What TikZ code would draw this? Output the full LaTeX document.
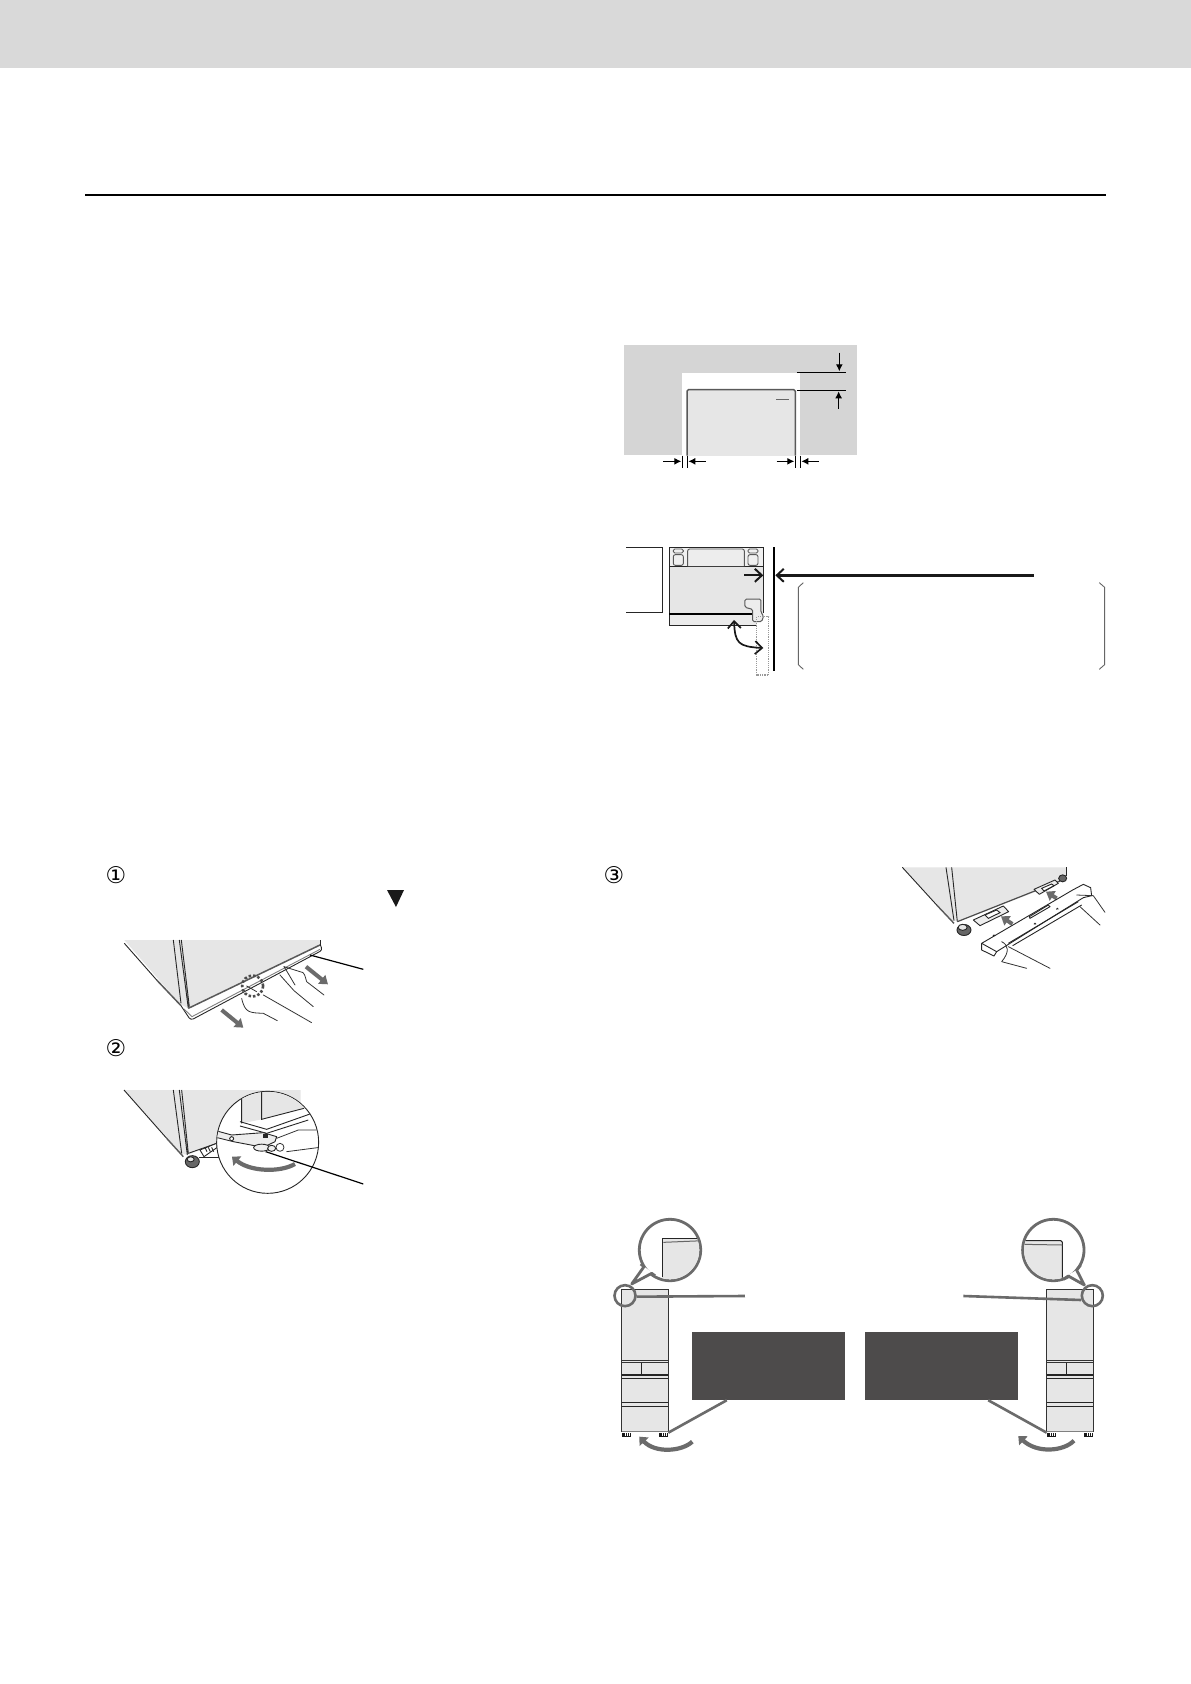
\documentclass[tikz,border=0pt]{standalone}
\usepackage{fontspec}
\newfontfamily\symfont{DejaVu Sans}
\usetikzlibrary{calc,positioning,arrows.meta,shapes.geometric}

\definecolor{bandgray}{HTML}{D9D9D9}
\definecolor{wallgray}{HTML}{D5D5D5}
\definecolor{bodygray}{HTML}{E6E6E6}
\definecolor{leadgray}{HTML}{6B6B6B}
\definecolor{boxdark}{HTML}{4D4B4B}

\tikzset{
  zoomed/.style={x=0.3333pt,y=-0.3333pt},
  thinline/.style={draw=black!85,line width=0.9pt},
  handline/.style={draw=black!80,line width=0.8pt,line cap=round,line join=round},
  dimline/.style={draw=black,line width=1pt},
  dimarrow/.style={draw=black,line width=1.2pt,-{Latex[length=7pt,width=7pt]}},
  bararrow/.style={draw=black!90,line cap=butt,-{Straight Barb[length=7pt,width=13pt,line width=2pt]}},
  grayarrow/.style={draw=leadgray,line width=4pt,-{Triangle[length=8pt,width=11pt]}},
  turnarrow/.style={draw=leadgray,line width=4.2pt,-{Triangle[length=7pt,width=12pt]}},
  leader/.style={draw=leadgray,line width=2.6pt},
  blackleader/.style={draw=black,line width=1.2pt},
  darkbox/.style={fill=boxdark,draw=none,minimum width=153pt,minimum height=68pt,inner sep=0pt},
  stepnum/.style={inner sep=0pt,font=\symfont\fontsize{23}{23}\selectfont},
}

\begin{document}
\begin{tikzpicture}[x=1pt,y=-1pt]

\useasboundingbox (0,0) rectangle (1191,1684);
\fill[white] (0,0) rectangle (1191,1684);

\fill[bandgray] (0,0) rectangle (1191,68);
\draw[black,line width=1.3pt] (85,195) -- (1106,195);

% opening, seen from the front
\begin{scope}[shift={(610,330)},zoomed]
  \fill[wallgray] (42,45) rectangle (741,375);
  \fill[white] (216,128) rectangle (570,378);
  \fill[bodygray] (231,179) rectangle (556,377);
  \draw[draw=black!65,line width=1.5pt,rounded corners=1.5pt] (231,377) -- (231,179) -- (556,179) -- (556,377);
  \draw[black!60,line width=1pt] (499,208) -- (537,208);
  \draw[dimline] (561,127) -- (707,127);
  \draw[dimline] (561,181) -- (707,181);
  \draw[dimarrow] (688,68) -- (688,124);
  \draw[dimarrow] (686,237) -- (686,184);
  \foreach \tickx in {217,232,556,571}
    \draw[dimline] (\tickx,377) -- (\tickx,413);
  \draw[dimarrow] (159,394) -- (214,394);
  \draw[dimarrow] (287,394) -- (235,394);
  \draw[dimarrow] (500,394) -- (553,394);
  \draw[dimarrow] (627,394) -- (574,394);
\end{scope}

% opening, seen from above
\begin{scope}[shift={(610,530)},zoomed]
  \draw[thinline,line width=1pt] (48,52) -- (158,52) -- (158,247) -- (48,247);
  \fill[bodygray!60] (178,52) rectangle (460,108);
  \fill[bodygray] (178,108) rectangle (460,252);
  \fill[bodygray!80] (178,252) rectangle (440,286);
  \draw[black!85,line width=1pt] (460,250) -- (460,52) -- (178,52) -- (178,286) -- (440,286);
  \draw[black!85,line width=0.9pt] (178,108) -- (460,108);
  \draw[black!65,line width=0.9pt,rounded corners=2pt,fill=bodygray!70] (233,108) -- (233,57) -- (403,57) -- (403,108);
  \foreach \seatx in {190,414} {
    \draw[black!65,line width=0.9pt,rounded corners=1.5pt] (\seatx,57) rectangle ++(30,12);
    \draw[black!65,line width=0.9pt,rounded corners=2pt] (\seatx,74) rectangle ++(30,32);
  }
  \draw[black,line width=1.8pt] (178,252) -- (450,252);
  \draw[black!65,line width=1pt,fill=bodygray!70,rounded corners=1.5pt] (405,207) -- (453,207) -- (453,248) -- (461,258) -- (455,275) -- (428,275) -- (428,238) -- (405,232) -- cycle;
  \draw[black!40,line width=1.2pt,densely dotted] (440,260) rectangle (476,435);
  \draw[black,line width=2pt] (492,52) -- (492,422);
  \draw[bararrow,line width=2.2pt] (403,136) -- (460,136);
  \draw[bararrow,line width=2.6pt] (1272,136) -- (496,136);
  \draw[black!90,line width=1.7pt,{Straight Barb[length=7pt,width=13pt]}-{Straight Barb[length=7pt,width=13pt]}] (372,270) .. controls (375,340) and (385,350) .. (460,354);
  \draw[black!60,line width=0.9pt] (580,158) -- (565,172) -- (565,404) -- (580,418);
  \draw[black!60,line width=0.9pt] (1468,158) -- (1484,172) -- (1484,404) -- (1468,418);
\end{scope}

\node (stepone) [stepnum] at (116,875) {①};
\fill[black!90] (387,890) -- (404,890) -- (396,907) -- cycle;

% pulling off the lower cover
\begin{scope}[shift={(100,860)},zoomed]
  \fill[bodygray] (73,240) -- (660,240) -- (660,255) -- (265,445) -- (240,432) -- cycle;
  \draw[thinline] (73,250) -- (170,360);
  \draw[draw=black!65,line width=1.5pt] (170,360) -- (243,437);
  \draw[thinline] (220,240) -- (243,430) (238,240) -- (265,445) (244,240) -- (268,440);
  \draw[thinline] (660,240) -- (660,255);
  \draw[draw=black!65,line width=1.5pt] (265,445) -- (660,255);
  \draw[thinline,line join=round,rounded corners=3pt] (243,437) -- (272,481) -- (668,270) -- (660,253);
  \draw[thinline,draw=black!50] (252,447) -- (276,470) -- (660,268);
  \coordinate (coverpoint) at (630,285);
  \coordinate (coverlabel) at (790,328);
  \draw[blackleader] (coverpoint) -- (coverlabel);
  \draw[grayarrow] (365,450) -- (430,503);
  \draw[grayarrow] (618,320) -- (684,373);
  \draw[black!70,line width=2.6pt,dash pattern=on 2.5pt off 2pt] (458,378) circle [radius=10.5pt];
  \draw[handline] (425,415) .. controls (435,460) and (450,458) .. (490,460) -- (532,482);
  \draw[handline] (490,405) -- (635,488);
  \draw[handline] (440,378) -- (470,395);
  \draw[handline] (552,320) .. controls (565,340) and (570,350) .. (585,375);
  \draw[handline] (540,345) -- (582,392) -- (640,440);
  \draw[handline] (552,320) -- (600,335) .. controls (615,335) and (615,350) .. (620,365) -- (672,405);
\end{scope}

\node (steptwo) [stepnum] at (116,1048) {②};

% turning the adjuster
\begin{scope}[shift={(100,1040)},zoomed]
  \fill[bodygray] (72,150) -- (602,150) -- (602,210) -- (262,345) -- (240,340) -- cycle;
  \draw[thinline] (72,150) -- (200,295);
  \draw[draw=black!65,line width=1.4pt] (200,295) -- (250,350);
  \draw[thinline] (220,150) -- (245,340) (238,150) -- (262,345) (245,150) -- (265,340);
  \draw[thinline] (265,340) -- (350,310);
  \draw[thinline,fill=white] (300,330) -- (350,310) -- (352,322) -- (312,350) -- cycle;
  \foreach \hatchx in {315,325,335}
    \draw[thinline] (\hatchx,322) -- (\hatchx+6,335);
  \draw[draw=black!85,fill=black!60,line width=0.9pt] (277,365) ellipse [x radius=7pt,y radius=6pt];
  \draw[thinline,fill=bodygray] (272,358) ellipse [x radius=3.5pt,y radius=2.5pt];
  \draw[thinline] (298,352) -- (358,352);
  \draw[thinline,fill=white] (503,307) circle [radius=51pt];
  \begin{scope}
    \clip (503,307) circle [radius=50.5pt];
    \fill[bodygray] (425,150) -- (650,150) -- (650,200) -- (610,205) -- (485,238) -- (425,250) -- cycle;
    \draw[thinline] (425,165) -- (425,250) (485,155) -- (485,238) -- (612,205);
    \draw[thinline] (420,245) -- (500,268) -- (630,222);
    \draw[thinline] (420,258) -- (500,280) -- (625,240);
    \draw[thinline,fill=bodygray!70,line join=round] (340,270) -- (395,285) -- (490,278) -- (530,290) -- (525,305) -- (490,322) -- (400,305) -- (340,290) -- cycle;
    \draw[thinline,fill=white] (395,296) circle [radius=2pt];
    \fill[black!85] (490,282) rectangle (505,294);
    \draw[thinline,fill=bodygray!60] (485,323) ellipse [x radius=8pt,y radius=3.5pt];
    \draw[thinline,fill=bodygray!60] (515,325) ellipse [x radius=4pt,y radius=3pt];
    \draw[handline] (530,295) -- (595,270) -- (660,270);
    \draw[handline,fill=white] (540,322) circle [radius=4pt];
    \draw[handline] (560,335) -- (660,322);
  \end{scope}
  \draw[turnarrow] (585,372) .. controls (540,398) and (450,395) .. (396,350);
  \coordinate (wrenchpoint) at (497,335);
  \coordinate (wrenchlabel) at (790,432);
  \draw[blackleader] (wrenchpoint) -- (wrenchlabel);
\end{scope}

\node (stepthree) [stepnum] at (614,875) {③};

% putting back the lower cover
\begin{scope}[shift={(880,855)},zoomed]
  \fill[bodygray] (67,37) -- (558,37) -- (558,75) -- (235,200) -- (212,195) -- cycle;
  \draw[thinline] (67,37) -- (170,150);
  \draw[draw=black!65,line width=1.4pt] (170,150) -- (222,205);
  \draw[thinline] (198,37) -- (222,197) (215,37) -- (232,200);
  \draw[thinline] (558,37) -- (558,62);
  \draw[draw=black!70,line width=1.2pt] (232,200) -- (540,78);
  \draw[draw=black!85,fill=black!60,line width=0.9pt] (252,225) ellipse [x radius=7pt,y radius=5.5pt];
  \draw[thinline,fill=bodygray] (248,217) ellipse [x radius=4.5pt,y radius=3pt];
  \draw[draw=black!85,fill=black!60,line width=0.9pt] (548,70) ellipse [x radius=4pt,y radius=3.5pt];
  \draw[thinline,fill=bodygray!70,line join=round] (280,195) -- (370,153) -- (386,170) -- (300,212) -- cycle;
  \draw[thinline,fill=white] (315,180) -- (350,165) -- (360,173) -- (325,190) -- cycle;
  \draw[thinline,fill=bodygray!70,line join=round] (462,103) -- (525,75) -- (535,85) -- (478,118) -- cycle;
  \draw[thinline,fill=white] (485,100) -- (515,87) -- (522,92) -- (492,108) -- cycle;
  \draw[grayarrow] (397,207) -- (363,184);
  \draw[grayarrow] (530,130) -- (498,110);
  % cover held in both hands
  \draw[thinline,fill=white,line join=round] (305,265) -- (578,105) -- (610,88) -- (632,98) -- (635,122) -- (610,128) -- (350,290) -- (342,303) -- (305,285) -- cycle;
  \draw[thinline] (350,290) -- (305,265);
  \draw[thinline] (385,265) -- (595,140);
  \draw[thinline] (398,272) -- (605,150);
  \draw[thinline] (448,185) -- (505,150) -- (510,155) -- (450,190) -- cycle;
  \foreach \markx/\marky in {342/240,465/205,532/160}
    \draw[thinline] (\markx-3,\marky+3) -- (\markx,\marky) -- (\markx+3,\marky+3);
  \draw[handline] (365,260) .. controls (385,270) and (390,290) .. (365,320) -- (440,340);
  \draw[handline] (385,275) -- (510,340);
  \draw[handline] (590,120) -- (640,122) -- (675,172);
  \draw[handline] (600,155) -- (660,210);
\end{scope}

% the two fridges seen from the front
\foreach \fridgex in {600,1025} {
  \begin{scope}[shift={(\fridgex,1210)},zoomed]
    \fill[bodygray] (65,238) rectangle (205,665);
    \draw[draw=black!80,line width=1pt] (65,238) rectangle (205,665);
    \draw[draw=black!80,line width=1pt] (65,452) -- (205,452) (65,458) -- (205,458);
    \draw[draw=black!85,line width=1.1pt] (65,495) -- (205,495) (65,505) -- (205,505);
    \draw[draw=black!85,line width=1.1pt] (65,577) -- (205,577) (65,589) -- (205,589);
    \draw[draw=black!85,line width=1.1pt] (125,458) -- (125,495);
    \draw[draw=black!50,line width=1.6pt] (65,664) -- (205,664);
    \foreach \footx in {66,178} {
      \fill[black!90] (\footx,668) rectangle ++(27,12);
      \foreach \barx in {8,14,20}
        \fill[white] (\footx+\barx,669) rectangle ++(1.5,9);
    }
  \end{scope}
}

% left fridge, bubble and leaders
\begin{scope}[shift={(600,1210)},zoomed]
  \draw[draw=leadgray,fill=white,line width=2.8pt] (210,120) circle [radius=30.7pt];
  \begin{scope}
    \clip (210,120) circle [radius=29.3pt];
    \fill[bodygray] (187,85) rectangle (320,230);
    \draw[draw=black!85,line width=1pt] (187,200) -- (187,85) -- (310,85);
    \draw[draw=black!60,line width=1pt] (190,97) -- (310,92);
  \end{scope}
  \fill[white] (123,163) -- (95,222) -- (160,190) -- cycle;
  \draw[draw=leadgray,line width=2.8pt,line join=round] (122,162) -- (132,170) -- (95,222) -- (155,190) -- (165,197);
  \draw[draw=leadgray,line width=2.6pt] (75,257) circle [radius=10.5pt];
  \coordinate (cornerleft) at (110,260);
  \coordinate (labelleft) at (435,258);
  \draw[leader] (cornerleft) -- (labelleft);
  \coordinate (frontleft) at (205,668);
  \draw[turnarrow] (277,695) .. controls (245,725) and (165,730) .. (118,680);
\end{scope}

% right fridge, bubble and leaders
\begin{scope}[shift={(850,1210)},zoomed]
  \draw[draw=leadgray,fill=white,line width=2.8pt] (610,120) circle [radius=30.7pt];
  \begin{scope}
    \clip (610,120) circle [radius=29.3pt];
    \fill[bodygray] (500,92) rectangle (637,230);
    \draw[draw=black!85,line width=1pt,rounded corners=1.5pt] (520,92) -- (637,92) -- (637,205);
    \draw[draw=black!60,line width=1pt] (520,103) -- (637,105);
  \end{scope}
  \fill[white] (683,178) -- (703,225) -- (650,198) -- cycle;
  \draw[draw=leadgray,line width=2.8pt,line join=round] (692,165) -- (680,180) -- (703,225) -- (655,198) -- (640,208);
  \draw[draw=leadgray,line width=2.6pt] (727,257) circle [radius=10.5pt];
  \coordinate (cornerright) at (693,270);
  \coordinate (labelright) at (340,258);
  \draw[leader] (cornerright) -- (labelright);
  \coordinate (frontright) at (590,668);
  \draw[turnarrow] (672,692) .. controls (640,725) and (560,730) .. (505,678);
\end{scope}

\node (boxleft) [darkbox] at (768.5,1366) {};
\node (boxright) [darkbox, right=20pt of boxleft] {};
\draw[leader] ($(boxleft.south west)+(35,0)$) -- (frontleft);
\draw[leader] ($(boxright.south west)+(123,0)$) -- (frontright);

\end{tikzpicture}
\end{document}
